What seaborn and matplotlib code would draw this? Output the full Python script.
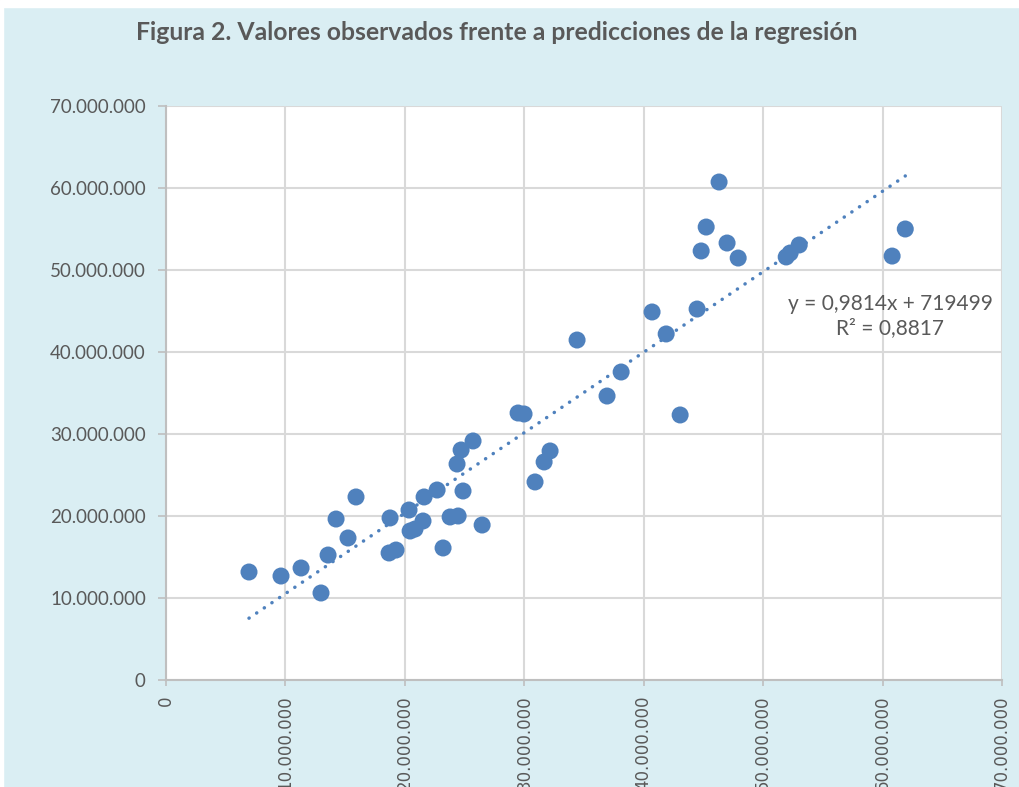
import numpy as np
import pandas as pd
import matplotlib
matplotlib.use("Agg")
import matplotlib.pyplot as plt
import seaborn as sns
from matplotlib.ticker import FuncFormatter, MultipleLocator

# Predicted values (x) and observed values (y), in millions
pred_m = [6.95, 9.63, 11.31, 12.98, 13.57, 14.24, 15.24, 15.91, 18.68, 19.26,
          18.76, 20.35, 20.44, 20.85, 21.52, 21.61, 22.70, 23.20, 23.79, 24.46,
          24.37, 24.71, 24.87, 25.71, 26.47, 29.48, 29.98, 30.90, 31.66, 32.16,
          34.42, 36.93, 38.11, 40.70, 41.88, 43.05, 44.47, 44.81, 45.23, 46.31,
          46.98, 47.91, 51.93, 52.26, 53.02, 60.80, 61.90]
obs_m = [13.17, 12.68, 13.66, 10.61, 15.24, 19.63, 17.32, 22.32, 15.49, 15.85,
         19.76, 20.73, 18.17, 18.41, 19.39, 22.32, 23.17, 16.10, 19.88, 20.00,
         26.34, 28.05, 23.05, 29.15, 18.90, 32.56, 32.44, 24.15, 26.59, 27.93,
         41.46, 34.63, 37.56, 44.88, 42.20, 32.32, 45.24, 52.32, 55.24, 60.73,
         53.29, 51.46, 51.59, 52.07, 53.05, 51.70, 55.00]

slope = 0.9814
intercept = 719499
r2_label = "0,8817"
title = "Figura 2. Valores observados frente a predicciones de la regresión"

df = pd.DataFrame({"pred": np.array(pred_m) * 1e6, "obs": np.array(obs_m) * 1e6})

sns.set_theme(style="white")
plt.rcParams['font.family'] = ['Lato', 'DejaVu Sans']

BG = "#DAEEF3"
BLUE = "#4F81BD"
GRID = "#D9D9D9"
AXC = "#BFBFBF"
TXT = "#595959"

fig = plt.figure(figsize=(10.2, 7.87), dpi=100)
fig.patch.set_facecolor(BG)
# white strip at top/left like the source screenshot
fig.add_artist(plt.Rectangle((0, 1 - 7 / 787), 1, 7 / 787, transform=fig.transFigure,
                             color="white", zorder=0))
fig.add_artist(plt.Rectangle((0, 0), 3 / 1020, 1, transform=fig.transFigure,
                             color="white", zorder=0))

ax = fig.add_axes([166 / 1020, 1 - 680 / 787, (1002 - 166) / 1020, (680 - 106) / 787])
ax.set_facecolor("white")

# trend line
xs = np.array([df["pred"].min(), df["pred"].max()])
ax.plot(xs, slope * xs + intercept, linestyle=(0, (0.05, 2.6)), dash_capstyle="round",
        color=BLUE, linewidth=2.5, zorder=2)

sns.scatterplot(data=df, x="pred", y="obs", ax=ax, color=BLUE, s=150,
                edgecolor="none", zorder=3, legend=False)

ax.set_xlim(0, 70e6)
ax.set_ylim(0, 70e6)
ax.xaxis.set_major_locator(MultipleLocator(10e6))
ax.yaxis.set_major_locator(MultipleLocator(10e6))

fmt = FuncFormatter(lambda v, p: f"{int(round(v)):,}".replace(",", "."))
ax.xaxis.set_major_formatter(fmt)
ax.yaxis.set_major_formatter(fmt)

ax.grid(True, color=GRID, linewidth=1.5)
ax.set_axisbelow(True)
for side in ["top", "right"]:
    ax.spines[side].set_visible(False)
for side in ["left", "bottom"]:
    ax.spines[side].set_color(AXC)
    ax.spines[side].set_linewidth(1.5)

ax.tick_params(axis="y", length=6, width=1.2, color=AXC, direction="out", left=True,
               pad=8.5, labelsize=13.5, labelcolor=TXT)
ax.tick_params(axis="x", length=4.5, width=1.2, color=AXC, direction="out",
               pad=6.5, labelsize=12, labelcolor=TXT, bottom=True)
for lab in ax.get_xticklabels():
    lab.set_rotation(90)
    lab.set_va("top")
    lab.set_ha("center")
    lab.set_family(["DejaVu Sans"])

ax.set_xlabel("")
ax.set_ylabel("")

fig.text(890 / 1020, 1 - 316 / 787,
         f"y = {str(slope).replace('.', ',')}x + {intercept}\nR² = {r2_label}",
         ha="center", va="center", fontsize=15, color=TXT, linespacing=1.3)

fig.text(497 / 1020, 1 - 33 / 787, title, ha="center", va="center",
         fontsize=17.8, fontweight="bold", color=TXT)

fig.savefig("out.png", dpi=100, facecolor=BG)
